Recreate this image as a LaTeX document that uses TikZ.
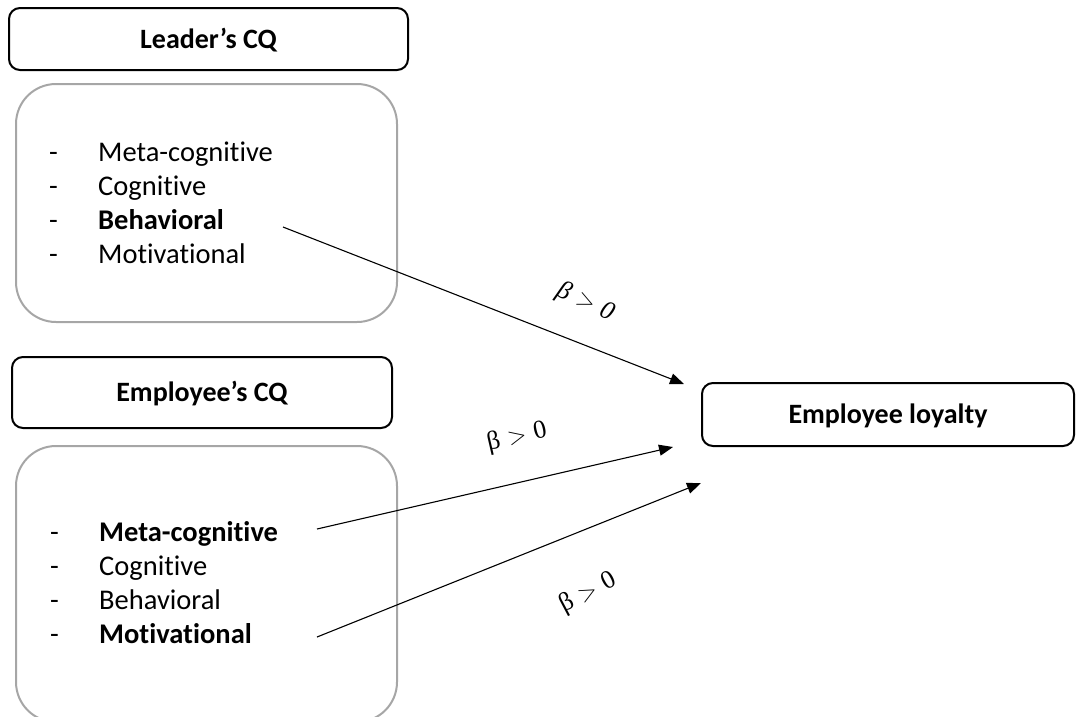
\documentclass[tikz,border=0pt]{standalone}
\usepackage{fontspec}
\setmainfont{Carlito}[RawFeature=-liga]
\newfontfamily\betafont{Liberation Serif}
\usetikzlibrary{arrows.meta}
\newcommand{\bgt}{\hspace{0.3em}$>$\hspace{0.3em}}
\begin{document}
\begin{tikzpicture}[x=1pt,y=-1pt,
  hdrbox/.style={draw=black,line width=2pt,rounded corners=11pt},
  listbox/.style={draw=black!35,line width=2pt,rounded corners=40pt},
  hdrtext/.style={font=\fontsize{28}{32}\selectfont\bfseries,anchor=center,inner sep=0pt},
  itemtext/.style={font=\fontsize{28.5}{33}\selectfont,anchor=base west,inner sep=0pt},
  dashtext/.style={font=\fontsize{28.5}{33}\selectfont,anchor=base west,inner sep=0pt},
  conn/.style={line width=1.1pt,-{Triangle[length=14pt,width=11pt]}},
  betalbl/.style={font=\betafont\fontsize{26}{30}\selectfont,anchor=center,inner sep=0pt}]
\useasboundingbox (0,0) rectangle (1076,716);
% header boxes
\draw[hdrbox] (9,8) rectangle (408,70);
\node[hdrtext] (lhdr) at (208.5,40) {Leader’s CQ};
\draw[hdrbox] (12,357) rectangle (392,428);
\node[hdrtext] (ehdr) at (202,394) {Employee’s CQ};
\draw[hdrbox] (702,383) rectangle (1074,446);
\node[hdrtext] (loy) at (888,416) {Employee loyalty};
% list boxes
\draw[listbox] (16,84) rectangle (397,322);
\draw[listbox] (16,446) rectangle (397,722);
% leader list
\foreach \y/\t [count=\i] in {161/{Meta-cognitive},195/{Cognitive},229/{\textbf{Behavioral}},263/{Motivational}}{
  \node[dashtext] (ld\i) at (49,\y) {-};
  \node[itemtext] (li\i) at (98,\y) {\t};
}
% employee list
\foreach \y/\t [count=\i] in {541/{\textbf{Meta-cognitive}},575/{Cognitive},609/{Behavioral},643/{\textbf{Motivational}}}{
  \node[dashtext] (ed\i) at (50,\y) {-};
  \node[itemtext] (ei\i) at (99,\y) {\t};
}
% connector ends
\coordinate (s1) at (283,227);
\coordinate (t1) at (684,384);
\coordinate (s2) at (317,529);
\coordinate (t2) at (673,447);
\coordinate (s3) at (317,637);
\coordinate (t3) at (701,483);
\draw[conn] (s1) -- (t1);
\draw[conn] (s2) -- (t2);
\draw[conn] (s3) -- (t3);
% labels
\node[betalbl,rotate=-25] (b1) at (586,302) {\itshape β\bgt0};
\node[betalbl,rotate=13] (b2) at (517,437) {β\bgt0};
\node[betalbl,rotate=28] (b3) at (588,593) {β\bgt0};
\end{tikzpicture}
\end{document}
